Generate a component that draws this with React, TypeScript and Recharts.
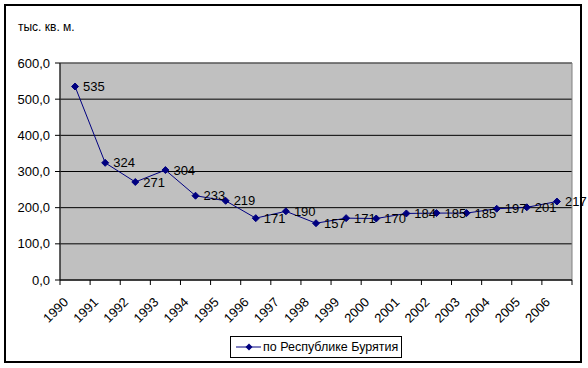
import { LineChart, Line, XAxis, YAxis, CartesianGrid, ReferenceArea, LabelList } from 'recharts'

const YEARS = ['1990', '1991', '1992', '1993', '1994', '1995', '1996', '1997', '1998', '1999', '2000', '2001', '2002', '2003', '2004', '2005', '2006']
const VALUES = [535, 324, 271, 304, 233, 219, 171, 190, 157, 171, 170, 184, 185, 185, 197, 201, 217]
const Y_TICKS = [0, 100, 200, 300, 400, 500, 600]
const X_TICKS = Array.from({ length: YEARS.length + 1 }, (_, i) => i)
const SERIES_NAME = 'по Республике Бурятия'
const UNIT = 'тыс. кв. м.'

const FONT = '"Liberation Sans", Arial, sans-serif'
const NAVY = '#000080'

const dados = YEARS.map((ano, i) => ({ x: i + 0.5, ano, valor: VALUES[i] }))

function Losango(props: any) {
  const { cx, cy } = props
  if (cx == null || cy == null) return null
  const r = 3.5
  return <polygon points={`${cx},${cy - r} ${cx + r},${cy} ${cx},${cy + r} ${cx - r},${cy}`} fill={NAVY} stroke={NAVY} />
}

function TickAno(props: any) {
  const { x, y, payload } = props
  const rotulo = YEARS[payload.value]
  if (!rotulo) return null
  const tx = x + 9
  const ty = y + 16
  return (
    <text x={tx} y={ty} transform={`rotate(-45 ${tx} ${ty})`} textAnchor="end" fontSize={13} fill="#000" fontFamily={FONT}>
      {rotulo}
    </text>
  )
}

export default function App() {
  return (
    <div style={{ position: 'absolute', left: 0, top: 0, width: 588, height: 368, background: '#fff', fontFamily: FONT }}>
      <div style={{ position: 'absolute', left: 4, top: 4, width: 574, height: 355, border: '2px solid #000' }} />
      <div style={{ position: 'absolute', left: 18, top: 20, fontSize: 12, color: '#000' }}>{UNIT}</div>
      <LineChart width={588} height={368} data={dados} margin={{ top: 63, right: 16, bottom: 0, left: 10 }}>
        <CartesianGrid vertical={false} fill="#C0C0C0" stroke="#000" strokeOpacity={1} />
        <ReferenceArea x1={0} x2={17} y1={0} y2={600} fill="none" stroke="#808080" strokeWidth={1} ifOverflow="visible" />
        <XAxis
          dataKey="x"
          type="number"
          domain={[0, 17]}
          ticks={X_TICKS}
          interval={0}
          height={88}
          stroke="#000"
          tickSize={5}
          tick={<TickAno />}
        />
        <YAxis
          domain={[0, 600]}
          ticks={Y_TICKS}
          width={50}
          stroke="#000"
          tickSize={5}
          tickMargin={5}
          tick={{ fontSize: 13, fill: '#000', fontFamily: FONT }}
          tickFormatter={(v: number) => v.toFixed(1).replace('.', ',')}
        />
        <Line dataKey="valor" stroke={NAVY} strokeWidth={1} dot={<Losango />} isAnimationActive={false}>
          <LabelList dataKey="valor" position="right" offset={8} fontSize={13} fill="#000" fontFamily={FONT} />
        </Line>
      </LineChart>
      <div style={{ position: 'absolute', left: 230, top: 336, width: 170, height: 20, border: '1px solid #000', background: '#fff', display: 'flex', alignItems: 'center', fontSize: 12.5 }}>
        <svg width={30} height={20} style={{ flex: 'none' }}>
          <line x1={5} y1={10} x2={30} y2={10} stroke={NAVY} strokeWidth={1} />
          <polygon points="18,6.5 21.5,10 18,13.5 14.5,10" fill={NAVY} />
        </svg>
        <span style={{ marginLeft: 2, whiteSpace: 'nowrap' }}>{SERIES_NAME}</span>
      </div>
    </div>
  )
}
